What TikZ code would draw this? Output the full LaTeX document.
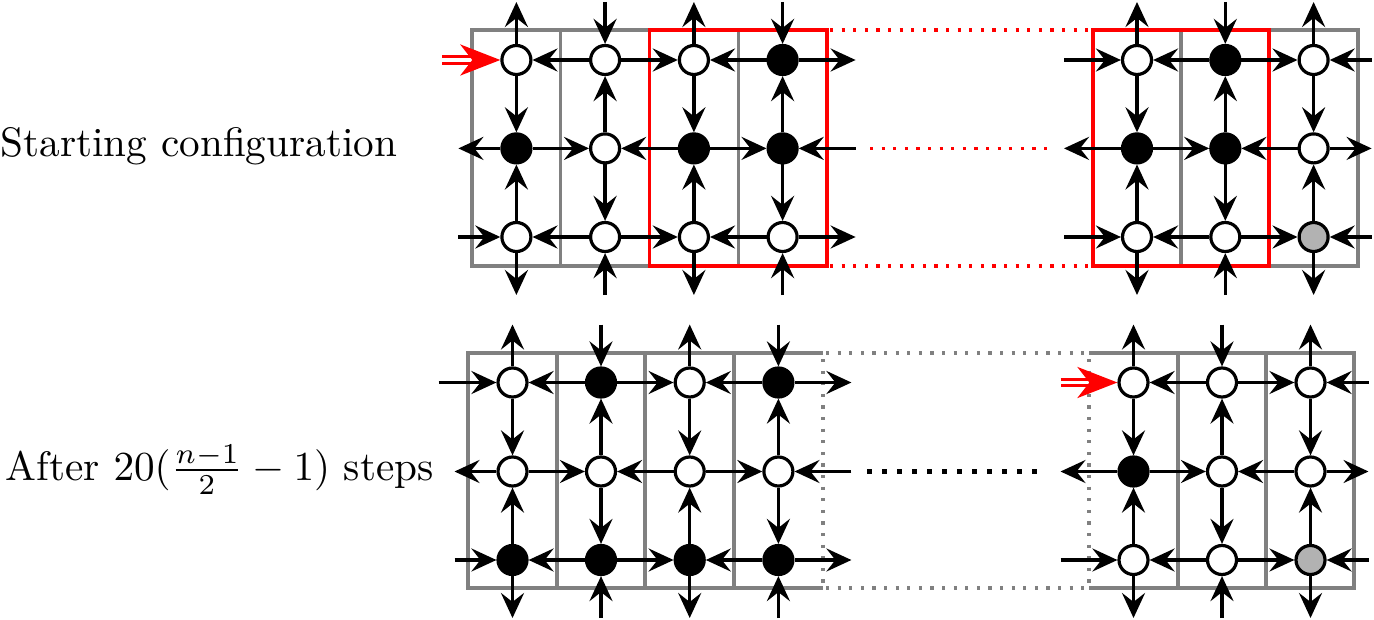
\documentclass[tikz,border=0pt]{standalone}
\usetikzlibrary{arrows.meta}
\tikzset{
  site/.style={circle, draw=black, line width=1.6pt, minimum size=14.5pt, inner sep=0pt},
  wsite/.style={site, fill=white},
  bsite/.style={site, fill=black},
  gsite/.style={site, fill=gray!60},
  arr/.style={draw=black, line width=1.7pt, -{Stealth[length=12.5pt,width=11.5pt,inset=4.5pt]}},
  redarr/.style={draw=red, line width=1.65pt, double=white, double distance=1.65pt,
    -{Stealth[length=20pt,width=15.5pt,inset=6pt,fill=red]}},
  cell/.style={draw=gray, line width=1.7pt},
  redbox/.style={draw=red, line width=1.7pt},
  graydots/.style={draw=gray, line width=1.6pt, dash pattern=on 1.6pt off 4.2pt},
  reddots/.style={draw=red, line width=1.6pt, dash pattern=on 1.6pt off 4.2pt},
  blackdots/.style={draw=black, line width=2.5pt, dash pattern=on 2.5pt off 5pt},
  lbl/.style={inner sep=0pt, scale=2.06, anchor=base west}
}
\newcommand\mkarrows[3]{%
  % stub coordinates
  \foreach \c in {1,...,7} {
    \coordinate (#1U\c) at ([yshift=29pt]#1\c1.center);
    \coordinate (#1D\c) at ([yshift=-29pt]#1\c3.center);
  }
  \coordinate (#1L1) at ([xshift=-37pt]#111.center);
  \coordinate (#1L2) at ([xshift=-29pt]#112.center);
  \coordinate (#1L3) at ([xshift=-29pt]#113.center);
  \foreach \r in {1,2,3} {
    \coordinate (#1R\r) at ([xshift=36.5pt]#14\r.center);
    \coordinate (#1M\r) at ([xshift=-36.5pt]#15\r.center);
    \coordinate (#1E\r) at ([xshift=29pt]#17\r.center);
  }
  % vertical edges
  \foreach \c in {1,3,5,7} {
    \draw[arr] (#1\c1) -- (#1\c2);
    \draw[arr] (#1\c3) -- (#1\c2);
    \draw[arr] (#1\c1) -- (#1U\c);
    \draw[arr] (#1\c3) -- (#1D\c);
  }
  \foreach \c in {2,4,6} {
    \draw[arr] (#1\c2) -- (#1\c1);
    \draw[arr] (#1\c2) -- (#1\c3);
    \draw[arr] (#1U\c) -- (#1\c1);
    \draw[arr] (#1D\c) -- (#1\c3);
  }
  % horizontal edges, rows 1 and 3
  \foreach \r in {1,3} {
    \draw[arr] (#12\r) -- (#11\r);
    \draw[arr] (#12\r) -- (#13\r);
    \draw[arr] (#14\r) -- (#13\r);
    \draw[arr] (#16\r) -- (#15\r);
    \draw[arr] (#16\r) -- (#17\r);
    \draw[arr] (#14\r) -- (#1R\r);
    \draw[arr] (#1E\r) -- (#17\r);
  }
  % horizontal edges, row 2
  \draw[arr] (#112) -- (#122);
  \draw[arr] (#132) -- (#122);
  \draw[arr] (#132) -- (#142);
  \draw[arr] (#152) -- (#162);
  \draw[arr] (#172) -- (#162);
  \draw[arr] (#1R2) -- (#142);
  \draw[arr] (#172) -- (#1E2);
  % left stubs
  \draw[#2] (#1L1) -- (#111);
  \draw[arr] (#112) -- (#1L2);
  \draw[arr] (#1L3) -- (#113);
  \draw[#3] (#1M1) -- (#151);
  \draw[arr] (#152) -- (#1M2);
  \draw[arr] (#1M3) -- (#153);
}
\begin{document}
\begin{tikzpicture}[x=0.5pt, y=-0.5pt]
\useasboundingbox (0,0) rectangle (1374,620);

% ---------- top grid boxes ----------
\draw[cell] (472,30) rectangle (560.75,266);
\draw[cell] (560.75,30) rectangle (649.5,266);
\draw[cell] (649.5,30) rectangle (738.25,266);
\draw[cell] (738.25,30) rectangle (827,266);
\draw[cell] (1093,30) rectangle (1181,266);
\draw[cell] (1181,30) rectangle (1269,266);
\draw[cell] (1269,30) rectangle (1358,266);
\draw[redbox] (649.5,30) rectangle (827,266);
\draw[redbox] (1093,30) rectangle (1269,266);
\draw[reddots] (830,30) -- (1093,30);
\draw[reddots] (830,266) -- (1093,266);
\draw[reddots] (870,148.4) -- (1050,148.4);

% ---------- bottom grid boxes ----------
\draw[cell] (468,353) rectangle (557,588);
\draw[cell] (557,353) rectangle (645,588);
\draw[cell] (645,353) rectangle (734,588);
\draw[cell] (823,353) -| (734,588) -- (823,588);
\draw[graydots] (826,353) -- (1089,353);
\draw[graydots] (826,588) -- (1089,588);
\draw[graydots] (823,359) -- (823,588);
\draw[graydots] (1089,359) -- (1089,588);
\draw[cell] (1089,353) -- (1354,353) -- (1354,588) -- (1089,588);
\draw[cell] (1178,353) -- (1178,588);
\draw[cell] (1266,353) -- (1266,588);
\draw[blackdots] (867,471.5) -- (1040,471.5);

% ---------- top grid sites ----------
\foreach \n/\x/\y/\st in {
  T11/516.4/60/wsite, T21/605.1/60/wsite, T31/693.9/60/wsite, T41/782.6/60/bsite,
  T51/1137/60/wsite, T61/1225.3/60/bsite, T71/1313.6/60/wsite,
  T12/516.4/148.4/bsite, T22/605.1/148.4/wsite, T32/693.9/148.4/bsite, T42/782.6/148.4/bsite,
  T52/1137/148.4/bsite, T62/1225.3/148.4/bsite, T72/1313.6/148.4/wsite,
  T13/516.4/237/wsite, T23/605.1/237/wsite, T33/693.9/237/wsite, T43/782.6/237/wsite,
  T53/1137/237/wsite, T63/1225.3/237/wsite, T73/1313.6/237/gsite}
  \node[\st] (\n) at (\x,\y) {};

% ---------- bottom grid sites ----------
\foreach \n/\x/\y/\st in {
  B11/512.5/382.5/wsite, B21/601/382.5/bsite, B31/689.7/382.5/wsite, B41/778.4/382.5/bsite,
  B51/1133.5/382.5/wsite, B61/1222/382.5/wsite, B71/1310.5/382.5/wsite,
  B12/512.5/471.5/wsite, B22/601/471.5/wsite, B32/689.7/471.5/wsite, B42/778.4/471.5/wsite,
  B52/1133.5/471.5/bsite, B62/1222/471.5/wsite, B72/1310.5/471.5/wsite,
  B13/512.5/560/bsite, B23/601/560/bsite, B33/689.7/560/bsite, B43/778.4/560/bsite,
  B53/1133.5/560/wsite, B63/1222/560/wsite, B73/1310.5/560/gsite}
  \node[\st] (\n) at (\x,\y) {};

\mkarrows{T}{redarr}{arr}
\mkarrows{B}{arr}{redarr}

% ---------- labels ----------
\node[lbl] (lab1) at (0,157) {Starting configuration};
\node[lbl] (lab2) at (5,480) {After $20(\frac{n-1}{2}-1)$ steps};
\end{tikzpicture}
\end{document}
